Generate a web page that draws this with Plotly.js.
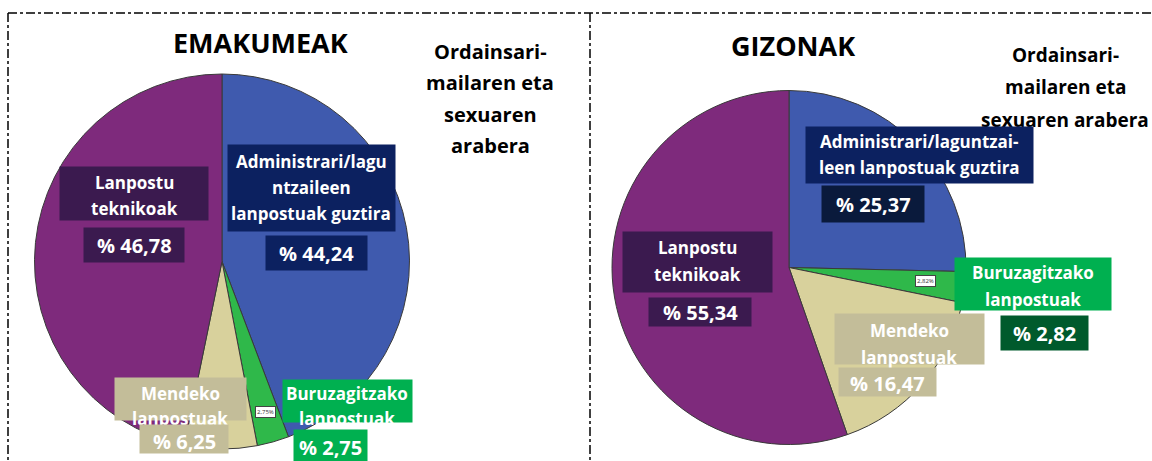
<!DOCTYPE html>
<html><head><meta charset="utf-8">
<script src="https://cdn.plot.ly/plotly-3.0.1.min.js"></script>
<style>html,body{margin:0;padding:0;background:#fff}#c{width:1152px;height:461px}</style>
</head><body><div id="c"></div>
<script>
const categories = ["Administrari/laguntzaileen lanpostuak guztira","Buruzagitzako lanpostuak","Mendeko lanpostuak","Lanpostu teknikoak"];
const women = [44.24, 2.75, 6.25, 46.78];
const men = [25.37, 2.82, 16.47, 55.34];
const sliceColors = ["#3F5AAE","#2FB84A","#D8D19C","#7E2A7C"];
const panelTitles = ["EMAKUMEAK","GIZONAK"];
const subtitleLinesW = ["Ordainsari-","mailaren eta","sexuaren","arabera"];
const subtitleLinesM = ["Ordainsari-","mailaren eta","sexuaren arabera"];
const labelLinesW = [["Administrari/lagu","ntzaileen","lanpostuak guztira"],["Buruzagitzako","lanpostuak"],["Mendeko","lanpostuak"],["Lanpostu","teknikoak"]];
const labelLinesM = [["Administrari/laguntzai-","leen lanpostuak guztira"],["Buruzagitzako","lanpostuak"],["Mendeko","lanpostuak"],["Lanpostu","teknikoak"]];

const W = 1152, H = 461;
const px = x => x / W, py = y => 1 - y / H;
const F = "'Open Sans', 'Noto Sans', sans-serif";

function fmt(v){ return "% " + v.toFixed(2).replace(".", ","); }
function fmtSmall(v){ return v.toFixed(2).replace(".", ",") + "%"; }

const pieBase = {type:"pie", labels:categories, sort:false, direction:"clockwise", rotation:0,
  textinfo:"none", hoverinfo:"label+percent", showlegend:false,
  marker:{colors:sliceColors, line:{color:"#3a3a3a", width:1}}};

const traces = [
  Object.assign({}, pieBase, {values:women, domain:{x:[px(34),px(410)], y:[py(449),py(74)]}}),
  Object.assign({}, pieBase, {values:men, domain:{x:[px(612),px(966)], y:[py(446),py(89)]}})
];

const annotations = [];
function line(text, cx, cy, size, color){
  annotations.push({xref:"paper", yref:"paper", x:px(cx), y:py(cy), xanchor:"center", yanchor:"middle",
    text:text, showarrow:false, font:{family:F, size:size, color:color, weight:"bold"}});
}
function bg(cx, cy, w, h, color){
  annotations.push({xref:"paper", yref:"paper", x:px(cx), y:py(cy), xanchor:"center", yanchor:"middle",
    text:" ", showarrow:false, bgcolor:color, width:w, height:h, borderpad:0, font:{size:2}});
}
function multiBox(lines, cx, cy, w, h, color, firstY, step, size){
  bg(cx, cy, w, h, color);
  lines.forEach((t,i)=>line(t, cx, firstY + i*step, size, "#fff"));
}
function pctBox(v, cx, cy, w, h, color, ty){
  bg(cx, cy, w, h, color);
  line(fmt(v), cx, ty, 20, "#fff");
}
function tiny(text, cx, cy){
  annotations.push({xref:"paper", yref:"paper", x:px(cx), y:py(cy), xanchor:"center", yanchor:"middle",
    text:text, showarrow:false, bgcolor:"#fff", bordercolor:"#444", borderwidth:1, borderpad:1,
    font:{family:F, size:6, color:"#333"}});
}

const navy="#0C2160", purpleD="#3B1A4F", beigeD="#C3BD99", green="#00B050", navyD="#0A1A3C", greenD="#005A2C";

// Women panel
line(panelTitles[0], 260, 42, 27, "#000");
subtitleLinesW.forEach((t,i)=>line(t, 490, 51 + i*31.5, 20, "#000"));
multiBox(labelLinesW[0], 311, 188, 167, 86, navy, 161, 26, 17);
pctBox(women[0], 316, 253, 101, 34, navy, 253);
multiBox(labelLinesW[3], 134, 193, 148, 53, purpleD, 182, 26, 17);
pctBox(women[3], 134, 245, 100, 34, purpleD, 245);
multiBox(labelLinesW[2], 180, 399, 131, 42, beigeD, 393, 25, 17);
pctBox(women[2], 184, 439, 88, 28, beigeD, 441);
multiBox(labelLinesW[1], 347, 401, 129, 42, green, 393, 25, 17);
pctBox(women[1], 330, 446, 73, 32, green, 447);
tiny(fmtSmall(women[1]), 265, 412);

// Men panel
line(panelTitles[1], 793, 45, 27, "#000");
subtitleLinesM.forEach((t,i)=>line(t, 1065, 55 + i*32.5, 19, "#000"));
multiBox(labelLinesM[0], 919, 155, 227, 56, navy, 141, 27, 17);
pctBox(men[0], 873, 204, 102, 36, navyD, 204);
multiBox(labelLinesM[3], 697, 262, 149, 60, purpleD, 247, 27, 17);
pctBox(men[3], 700, 312, 102, 28, purpleD, 312);
multiBox(labelLinesM[1], 1033, 284, 156, 52, green, 272, 27, 17);
pctBox(men[1], 1044, 333, 87, 34, greenD, 333);
multiBox(labelLinesM[2], 909, 339, 149, 50, beigeD, 330, 27, 17);
pctBox(men[2], 887, 382, 97, 28, beigeD, 383);
tiny(fmtSmall(men[1]), 925, 281);

const shapes = [
  {type:"line", xref:"paper", yref:"paper", x0:px(8), x1:px(1152), y0:py(13), y1:py(13), line:{color:"#000", width:1.5, dash:"dashdot"}},
  {type:"line", xref:"paper", yref:"paper", x0:px(8), x1:px(8), y0:py(13), y1:0, line:{color:"#000", width:1.5, dash:"dashdot"}},
  {type:"line", xref:"paper", yref:"paper", x0:px(590), x1:px(590), y0:py(13), y1:0, line:{color:"#000", width:1.5, dash:"dashdot"}}
];

Plotly.newPlot("c", traces, {width:W, height:H, margin:{l:0,r:0,t:0,b:0},
  paper_bgcolor:"#fff", annotations:annotations, shapes:shapes}, {displayModeBar:false, staticPlot:true});
</script></body></html>
